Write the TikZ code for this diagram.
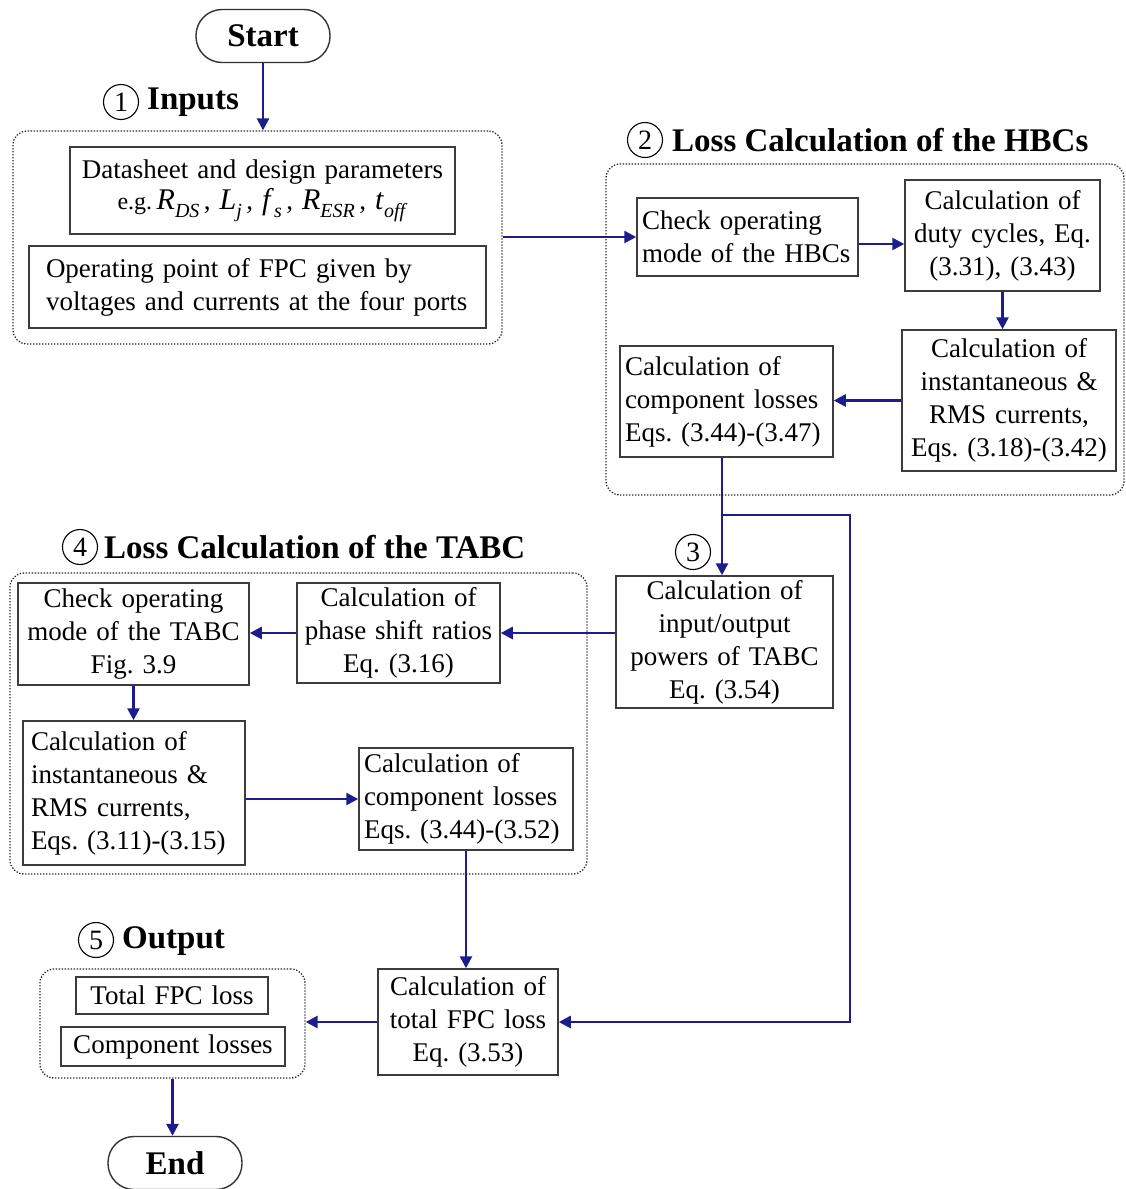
\documentclass[tikz,border=0pt]{standalone}
\usepackage{fontspec}
\setmainfont{Liberation Serif}
\usetikzlibrary{arrows.meta,calc}
\definecolor{navyline}{RGB}{28,28,140}
\definecolor{boxgray}{RGB}{60,60,60}
\newcommand\rmtxt{\fontsize{27}{33}\selectfont\frenchspacing}
\newcommand\hdtxt{\fontsize{33}{38}\selectfont\bfseries}
\newcommand\numtxt{\fontsize{28}{28}\selectfont}
% italic symbol with italic subscript
\newcommand\vsym[2]{{\fontsize{30}{33}\selectfont\textit{#1}}\raisebox{-0.3em}{\fontsize{20}{20}\selectfont\textit{#2}}}
\begin{document}
\frenchspacing
\begin{tikzpicture}[x=1pt,y=-1pt,
  box/.style={draw=boxgray, line width=1.5pt, inner sep=0pt, font=\rmtxt},
  cbox/.style={box, align=center},
  lbox/.style={box, align=left},
  grp/.style={draw=black!85, line width=1.3pt, dash pattern=on 1.3pt off 1.7pt, rounded corners=14pt, inner sep=0pt},
  term/.style={draw=black!80, line width=1.4pt, rounded corners=26pt, inner sep=0pt, font=\hdtxt, minimum width=134pt, minimum height=53pt},
  numc/.style={circle, draw=black, line width=1.1pt, minimum size=35pt, inner sep=0pt, font=\numtxt},
  head/.style={anchor=west, inner sep=0pt, font=\hdtxt},
  arr/.style={draw=navyline, line width=2.6pt, -{Triangle[length=12pt,width=12pt]}},
  wire/.style={draw=navyline, line width=2.6pt}
]
\useasboundingbox (0,0) rectangle (1126,1189);

% ---- Start ----
\node[term] (start) at (263,36) {Start};

% ---- 1 Inputs ----
\node[numc] (n1) at (121,102) {1};
\node[head] (h1) at (147,102) {Inputs};
\node[grp, minimum width=489pt, minimum height=213pt] (inp) at (257.5,237.5) {};
\node[cbox, minimum width=385pt, minimum height=87pt, text width=380pt] (ds) at (262.5,190.5)
  {Datasheet and design parameters\\[-2pt]
   {\fontsize{24}{33}\selectfont e.g.}\,\vsym{R}{DS}\,, \vsym{L}{j}\,, \vsym{f}{s}\,, \vsym{R}{ESR}\,, \vsym{t}{off}};
\node[lbox, minimum width=457pt, minimum height=82pt, text width=423pt, inner xsep=17pt] (op) at (257.5,287)
  {Operating point of FPC given by\\voltages and currents at the four ports};

% ---- 2 Loss calculation of the HBCs ----
\node[numc] (n2) at (645,140) {2};
\node[head] (h2) at (672,140) {Loss Calculation of the HBCs};
\node[grp, minimum width=518pt, minimum height=331pt] (hbc) at (865,329.5) {};
\node[lbox, minimum width=221pt, minimum height=78pt, text width=211pt, inner xsep=5pt] (chk) at (747.5,237)
  {Check operating\\mode of the HBCs};
\node[cbox, minimum width=195pt, minimum height=111pt, text width=191pt] (duty) at (1002.5,235.5)
  {Calculation of\\duty cycles, Eq.\\(3.31), (3.43)};
\node[cbox, minimum width=214pt, minimum height=141pt, text width=210pt] (inst) at (1009,400.5)
  {Calculation of\\instantaneous \&\\RMS currents,\\Eqs. (3.18)-(3.42)};
\node[lbox, minimum width=213pt, minimum height=111pt, text width=203pt, inner xsep=5pt] (comp) at (726.5,401.5)
  {Calculation of\\component losses\\Eqs. (3.44)-(3.47)};

% ---- 3 Input/output powers ----
\node[numc] (n3) at (693,552) {3};
\node[cbox, minimum width=217pt, minimum height=132pt, text width=213pt] (pw) at (724.5,642)
  {Calculation of\\input/output\\powers of TABC\\Eq. (3.54)};

% ---- 4 Loss calculation of the TABC ----
\node[numc] (n4) at (80,547) {4};
\node[head] (h4) at (104,547) {Loss Calculation of the TABC};
\node[grp, minimum width=577pt, minimum height=301pt] (tabc) at (298.5,723.5) {};
\node[cbox, minimum width=231pt, minimum height=102pt, text width=227pt] (chkT) at (133.5,634)
  {Check operating\\mode of the TABC\\Fig. 3.9};
\node[cbox, minimum width=203pt, minimum height=100pt, text width=199pt] (phase) at (398.5,633)
  {Calculation of\\phase shift ratios\\Eq. (3.16)};
\node[lbox, minimum width=222pt, minimum height=144pt, text width=206pt, inner xsep=8pt] (instT) at (134,793)
  {Calculation of\\instantaneous \&\\RMS currents,\\Eqs. (3.11)-(3.15)};
\node[lbox, minimum width=214pt, minimum height=102pt, text width=204pt, inner xsep=5pt] (compT) at (466,799)
  {Calculation of\\component losses\\Eqs. (3.44)-(3.52)};

% ---- Total loss ----
\node[cbox, minimum width=180pt, minimum height=106pt, text width=176pt] (tot) at (468,1022)
  {Calculation of\\total FPC loss\\Eq. (3.53)};

% ---- 5 Output ----
\node[numc] (n5) at (96,940) {5};
\node[head] (h5) at (122,941) {Output};
\node[grp, minimum width=265pt, minimum height=109pt] (out) at (172.5,1023.5) {};
\node[cbox, minimum width=192pt, minimum height=37pt, text width=188pt] (tfl) at (172,995.5) {Total FPC loss};
\node[cbox, minimum width=224pt, minimum height=39pt, text width=220pt] (cl) at (173,1046.5) {Component losses};

% ---- End ----
\node[term] (end) at (175,1163) {End};

% ---- connectors ----
\draw[arr] (start.south) -- (start.south |- inp.north);
\draw[arr] (inp.east |- chk.west) -- (chk.west);
\draw[arr] ([yshift=-7pt]chk.east) -- ([yshift=-7pt]chk.east -| duty.west);
\draw[arr] (duty.south) -- (duty.south |- inst.north);
\draw[arr] (inst.west) -- (inst.west -| comp.east);
\coordinate (j1) at (722,515);
\coordinate (j2) at (850,515);
\draw[wire] (j1 |- comp.south) -- (j1);
\draw[arr] (j1) -- (j1 |- pw.north);
\draw[arr] (j1) -- (j2) |- (tot.east);
\draw[arr] (pw.west |- phase.east) -- (phase.east);
\draw[arr] (phase.west) -- (phase.west -| chkT.east);
\draw[arr] (chkT.south) -- (chkT.south |- instT.north);
\draw[arr] (instT.east |- compT.west) -- (compT.west);
\draw[arr] (compT.south) -- (compT.south |- tot.north);
\draw[arr] (tot.west) -- (tot.west -| out.east);
\draw[arr] (out.south) -- (out.south |- end.north);
\end{tikzpicture}
\end{document}
